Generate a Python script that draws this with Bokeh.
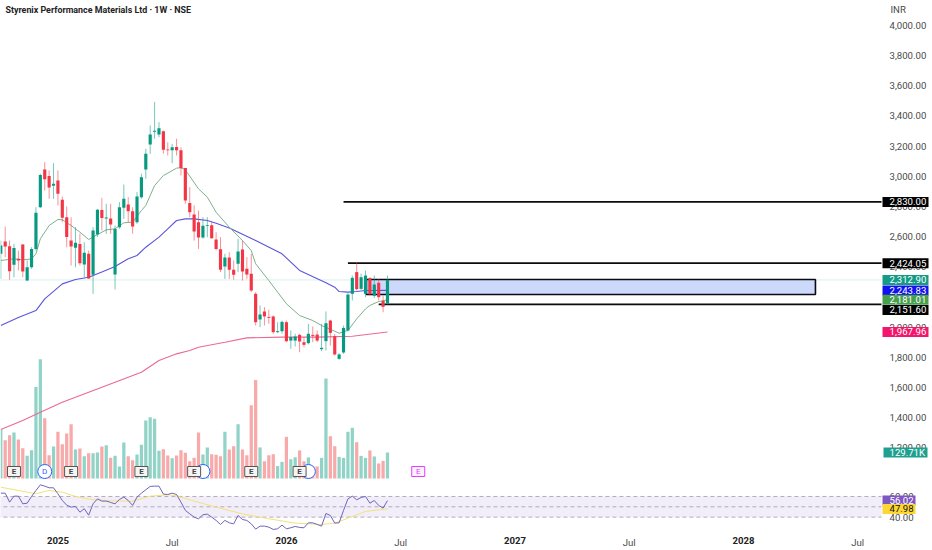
from bokeh.plotting import figure
from bokeh.embed import file_html
from bokeh.resources import INLINE
from bokeh.models import (Range1d, LinearAxis, FixedTicker, NumeralTickFormatter, Label)
from bokeh.core.properties import value

# ---- weekly OHLC (INR), oldest first
opens = [2486,2568,2537,2413,2453,2548,2309,2398,2519,2795,3045,3003,2937,2972,2844,2729,2574,2526,2552,2415,2486,2347,2614,2776,2720,2720,2349,2663,2791,2813,2769,2696,2862,3045,3211,3295,3277,3299,3178,3173,3195,3173,3056,2824,2747,2696,2594,2670,2676,2581,2517,2402,2462,2380,2420,2515,2387,2354,2221,2051,2104,2068,2071,1967,1973,2033,1911,1911,1949,1900,1894,1949,1951,1854,1907,2044,1940,1790,1832,1978,2221,2365,2254,2221,2325,2208,2294,2174,2155]
closes = [2541,2535,2371,2524,2442,2369,2398,2519,2758,3008,2981,2926,2950,2884,2725,2597,2535,2559,2424,2493,2323,2641,2778,2723,2727,2681,2650,2795,2851,2769,2667,2866,2994,3149,3277,3302,3319,3176,3173,3193,3173,3054,2840,2762,2634,2594,2672,2676,2590,2519,2380,2462,2380,2347,2502,2369,2349,2243,2033,2084,2071,2062,1967,1973,2035,1907,1934,1938,1905,1883,1956,1942,1911,1863,2026,1962,1819,1819,1995,2216,2327,2252,2331,2342,2219,2283,2199,2135,2312.9]
highs = [2574,2667,2574,2552,2508,2552,2442,2530,2795,3017,3094,3039,3087,3039,2866,2800,2729,2663,2619,2563,2508,2663,2784,2857,2818,2818,2674,2829,2946,2862,2795,2895,3017,3182,3337,3492,3359,3304,3226,3215,3249,3193,3056,2928,2807,2773,2729,2729,2696,2630,2597,2486,2497,2442,2585,2574,2464,2486,2232,2144,2133,2115,2077,2033,2044,2044,1978,1956,1956,1934,2022,2004,1978,2022,2104,2049,1956,1828,2011,2225,2342,2431,2354,2376,2331,2342,2320,2210,2342]
lows = [2320,2464,2314,2331,2376,2331,2305,2387,2508,2791,2906,2851,2851,2807,2696,2530,2409,2398,2409,2331,2320,2221,2597,2641,2619,2619,2250,2652,2718,2696,2619,2685,2851,2983,3149,3249,3260,3149,3138,3087,3138,3005,2818,2729,2574,2519,2586,2597,2586,2508,2365,2320,2320,2314,2365,2309,2320,2232,2011,2000,2011,2022,1956,1960,1956,1900,1856,1872,1834,1867,1885,1900,1900,1841,1845,1878,1812,1783,1823,1973,2177,2243,2247,2199,2210,2194,2177,2099,2150]

# ---- volume (thousands)
volume_k = [246,191,216,229,195,151,113,141,457,595,301,116,160,233,171,225,271,145,150,111,126,126,130,160,166,103,113,60,180,111,91,120,168,289,306,298,138,146,115,101,115,141,128,86,103,229,120,155,121,118,111,233,145,161,271,145,116,366,491,155,86,116,121,62,83,208,96,106,140,86,105,63,60,103,499,211,161,108,103,233,253,181,113,103,140,110,75,88,129.71]

# ---- RSI and its average
rsi = [63.2,63.2,54.5,60.3,60.3,52.9,53.5,60,65.8,71.3,70,68.4,68.4,62.6,56.1,51.6,49.7,50.3,44.8,48.1,41.9,52.9,57.7,55.5,55.5,54.2,52.9,57.1,59.4,56.1,51.3,59.4,63.2,66.5,69.7,70,70,62.3,61.9,63.2,61.9,54.5,46.5,43.2,40,38.4,42.3,42.9,40,36.8,32.9,36.8,34.5,33.5,41.6,37.7,36.8,33.5,28.4,31.3,31.3,30.3,28.1,28.7,32.3,28.7,29.7,31,30,29.7,34.5,34.5,32.9,31.3,43.5,41.6,34.2,34.5,46.5,57.7,60.3,56.8,59,60,53.5,56.1,51.3,48.7,56.02]
rsi_ma_i = [0,4,8,11,14,17,21,27,30,34,38,40,44,49,55,61,67,73,76,80,83,88]
rsi_ma = [69,65.8,62.6,65.8,64.2,60,56.8,55.5,55.5,60.3,61.6,60.6,55.5,49.7,43.2,38.4,34.2,32.9,34.2,40.6,45.5,47.98]

# ---- moving averages on price
ma_fast_i = [0,3,5,7,8,9,11,13,14,16,18,20,22,24,26,28,30,32,33,35,37,40,41,42,45,47,49,52,55,57,58,61,63,65,68,71,73,76,77,79,81,83,84,86,88]
ma_fast = [2442,2453,2446,2453,2486,2586,2674,2714,2712,2674,2630,2581,2614,2645,2652,2692,2696,2773,2807,2939,3005,3054,3058,3043,2917,2862,2762,2663,2574,2508,2420,2309,2232,2155,2077,2044,2011,1973,1960,1978,2055,2121,2144,2170,2181.01]
ma_mid_i = [0,4,8,10,14,17,20,23,26,29,31,33,36,38,40,42,44,47,49,52,58,64,68,74,76,77,79,81,83,88]
ma_mid = [2011,2064,2110,2188,2287,2316,2331,2365,2402,2453,2475,2530,2597,2652,2707,2718,2718,2707,2689,2658,2574,2486,2376,2294,2265,2236,2232,2236,2243,2243.83]
ma_slow_i = [0,5,9,14,20,26,32,36,40,43,45,51,56,64,72,80,88]
ma_slow = [1321,1381,1436,1502,1569,1635,1701,1779,1823,1845,1867,1900,1929,1934,1934,1940,1967.96]

# ---- drawn levels
level_prices = [2830.00, 2424.05, 2151.60]
level_start_i = [78, 79, 86]
box_low, box_high = 2217, 2316
box_left_i, box_right_i = 83.2, 185.4

# ---- event markers
earn_i = [3, 16, 32, 44, 57, 68]
div_i = [10, 46, 70]
next_earn_i = [95]

# ---- axis labels
price_ticks = list(range(1200, 4001, 200))
rsi_ticks = [40, 60]
jul_ticks = [39, 91, 143, 195]
year_ticks = [13, 65, 117, 169]
year_labels = ["2025", "2026", "2027", "2028"]
title_text = "Styrenix Performance Materials Ltd · 1W · NSE"

# ---- value pills: shown value, text, where the tag sits on the scale, colours, scale
pill_values = [2830.00, 2424.05, 2312.90, 2243.83, 2181.01, 2114, 1967.96]
pill_texts = ["2,830.00", "2,424.05", "2,312.90", "2,243.83", "2,181.01", "2,151.60", "1,967.96"]
pill_colors = ["#000000", "#000000", "#149a85", "#1212ee", "#46a04c", "#000000", "#f2176c"]
vol_pill = (129.71, "129.71K", "#1fa08f")
rsi_pill_values = [56.02, 47.98]
rsi_pill_texts = ["56.02", "47.98"]
rsi_pill_colors = ["#7e57c2", "#fdd835"]
rsi_pill_text_colors = ["#ffffff", "#111111"]

FONT = "Roboto"
UP, DOWN = "#089981", "#f23645"
W, H = 932, 550
STEP = 4.394
FRAME_END = (881 - 0.3) / STEP      # right end of the plotting area, in weeks
PILL_X = (905 - 0.3) / STEP
PILL_X_SHORT = (898.5 - 0.3) / STEP
TEXT_X = (889 - 0.3) / STEP

p = figure(width=W, height=H, frame_width=W, frame_height=H,
           x_axis_type=None, y_axis_type=None,
           output_backend="svg", toolbar_location=None,
           x_range=Range1d(-0.3 / STEP, (W - 0.3) / STEP),
           y_range=Range1d(4000 - 525 * 6.63, 4000 + 25 * 6.63),
           min_border=0, outline_line_color=None, background_fill_color="white")
p.styles = {"position": "absolute", "left": "0px", "top": "0px"}
p.grid.visible = False
p.extra_y_ranges = {"vol": Range1d(-72 * 4.99, 478 * 4.99),
                    "rsi": Range1d(50 - 43.7 / 1.033, 50 + 506.3 / 1.033)}

AXIS_TEXT = dict(axis_line_color=None, major_tick_line_color=None, minor_tick_line_color=None,
                 major_tick_in=0, major_tick_out=0, minor_tick_in=0, minor_tick_out=0,
                 major_label_text_font=FONT, major_label_text_font_size="9.6px")
yax = LinearAxis(ticker=FixedTicker(ticks=price_ticks), formatter=NumeralTickFormatter(format="0,0.00"),
                 fixed_location=FRAME_END, major_label_text_color="#4a4a4a", major_label_standoff=8, **AXIS_TEXT)
p.add_layout(yax, "right")
yax2 = LinearAxis(ticker=FixedTicker(ticks=rsi_ticks), formatter=NumeralTickFormatter(format="0.00"), y_range_name="rsi",
                  fixed_location=FRAME_END, major_label_text_color="#4a4a4a", major_label_standoff=8, **AXIS_TEXT)
p.add_layout(yax2, "right")
AXIS_Y = 4000 - 508 * 6.63
xax = LinearAxis(ticker=FixedTicker(ticks=jul_ticks), major_label_overrides={t: "Jul" for t in jul_ticks},
                 fixed_location=AXIS_Y, major_label_text_color="#4a4a4a", major_label_standoff=3, **AXIS_TEXT)
p.add_layout(xax, "below")
xax2 = LinearAxis(ticker=FixedTicker(ticks=year_ticks), major_label_overrides=dict(zip(year_ticks, year_labels)),
                  fixed_location=AXIS_Y, major_label_text_color="#222222", major_label_text_font_style="bold",
                  major_label_standoff=3, **AXIS_TEXT)
p.add_layout(xax2, "below")

idx = list(range(len(closes)))
up = [c >= o for o, c in zip(opens, closes)]
colors = [UP if u else DOWN for u in up]
vcolors = ["#92d3c8" if u else "#f8a9a9" for u in up]

# RSI band
p.varea(x=[-1, FRAME_END], y1=[40, 40], y2=[60, 60], y_range_name="rsi", fill_color="#7e57c2", fill_alpha=0.1)
for lv in (60, 50, 40):
    p.segment(x0=-1, x1=FRAME_END, y0=lv, y1=lv, y_range_name="rsi", line_color="#9e9aa8",
              line_width=0.8, line_dash="4 3")

# volume
p.vbar(x=idx, top=volume_k, bottom=0, width=0.74, y_range_name="vol", color=vcolors, line_color=None)

# last price line
p.segment(x0=-1, x1=FRAME_END, y0=closes[-1], y1=closes[-1], line_color=UP, line_alpha=0.15, line_width=1)

# box and levels
p.quad(left=box_left_i, right=box_right_i, bottom=box_low, top=box_high,
       fill_color="#cdd9fb", line_color="#0b0b14", line_width=1.6)
for lp, ls in zip(level_prices, level_start_i):
    p.segment(x0=ls, x1=FRAME_END, y0=lp, y1=lp, line_color="#0b0b0b", line_width=1.8)

# moving averages
p.line(ma_slow_i, ma_slow, line_color="#ea6a96", line_width=1.1)
p.line(ma_mid_i, ma_mid, line_color="#5a55dc", line_width=1.1)
p.line(ma_fast_i, ma_fast, line_color="#7fb08c", line_width=1.0)

# candles
p.segment(x0=idx, x1=idx, y0=lows, y1=highs, line_color=colors, line_alpha=0.55, line_width=1)
p.vbar(x=idx, top=[max(a, b) for a, b in zip(opens, closes)], bottom=[min(a, b) for a, b in zip(opens, closes)],
       width=0.72, color=colors, line_color=None)

# RSI lines
p.line(rsi_ma_i, rsi_ma, y_range_name="rsi", line_color="#f2e27a", line_width=1.0)
p.line(idx, rsi, y_range_name="rsi", line_color="#6e64bd", line_width=1.0)

# markers
MARK_V = 35
p.scatter(x=div_i, y=[MARK_V] * len(div_i), y_range_name="vol", size=14, marker="circle",
          fill_color="white", line_color="#2962ff", line_width=1)
p.text(x=div_i[:1], y=[MARK_V], y_range_name="vol", text=["D"], text_font=value(FONT), text_font_size="8px",
       text_color="#2962ff", text_align="center", text_baseline="middle")
p.rect(x=earn_i, y=[MARK_V] * len(earn_i), width=13, height=10, width_units="screen", height_units="screen",
       y_range_name="vol", fill_color="#f4f4f4", line_color="#555555", line_width=1)
p.text(x=earn_i, y=[MARK_V] * len(earn_i), y_range_name="vol", text=["E"] * len(earn_i),
       text_font=value(FONT), text_font_style="bold", text_font_size="8px", text_color="#444444",
       text_align="center", text_baseline="middle")
p.rect(x=next_earn_i, y=[MARK_V], width=13, height=10, width_units="screen", height_units="screen",
       y_range_name="vol", fill_color="#fdf0ff", line_color="#e040fb", line_width=1)
p.text(x=next_earn_i, y=[MARK_V], y_range_name="vol", text=["E"], text_font=value(FONT), text_font_size="8px",
       text_color="#e040fb", text_align="center", text_baseline="middle")

# pills, above the axes
TXT = dict(text_font=value(FONT), text_font_size="9.6px", text_baseline="middle", text_align="left", level="annotation")
BOX = dict(width_units="screen", height_units="screen", height=10, line_color=None, level="annotation")
n = len(pill_values)
p.rect(x=[PILL_X] * n, y=pill_values, width=46, fill_color=pill_colors, **BOX)
p.text(x=[TEXT_X] * n, y=pill_values, text=pill_texts, text_color="#ffffff", **TXT)
p.rect(x=[PILL_X], y=[vol_pill[0]], width=44, fill_color=vol_pill[2], y_range_name="vol", **BOX)
p.text(x=[TEXT_X], y=[vol_pill[0]], text=[vol_pill[1]], text_color="#ffffff", y_range_name="vol", **TXT)
p.rect(x=[PILL_X_SHORT] * 2, y=rsi_pill_values, width=33, fill_color=rsi_pill_colors, y_range_name="rsi", **BOX)
p.text(x=[TEXT_X] * 2, y=rsi_pill_values, text=rsi_pill_texts, text_color=rsi_pill_text_colors, y_range_name="rsi", **TXT)

# header texts
p.add_layout(Label(x=5, x_units="screen", y=4000 + 16 * 6.63, text=title_text, text_font="Roboto",
                   text_font_style="bold", text_font_size="8.9px", text_color="#222222", text_baseline="middle"))
p.add_layout(Label(x=890, x_units="screen", y=4000 + 16 * 6.63, text="INR", text_font=FONT,
                   text_font_size="9.6px", text_color="#4a4a4a", text_baseline="middle"))

open("out.html", "w").write(file_html(p, INLINE))
